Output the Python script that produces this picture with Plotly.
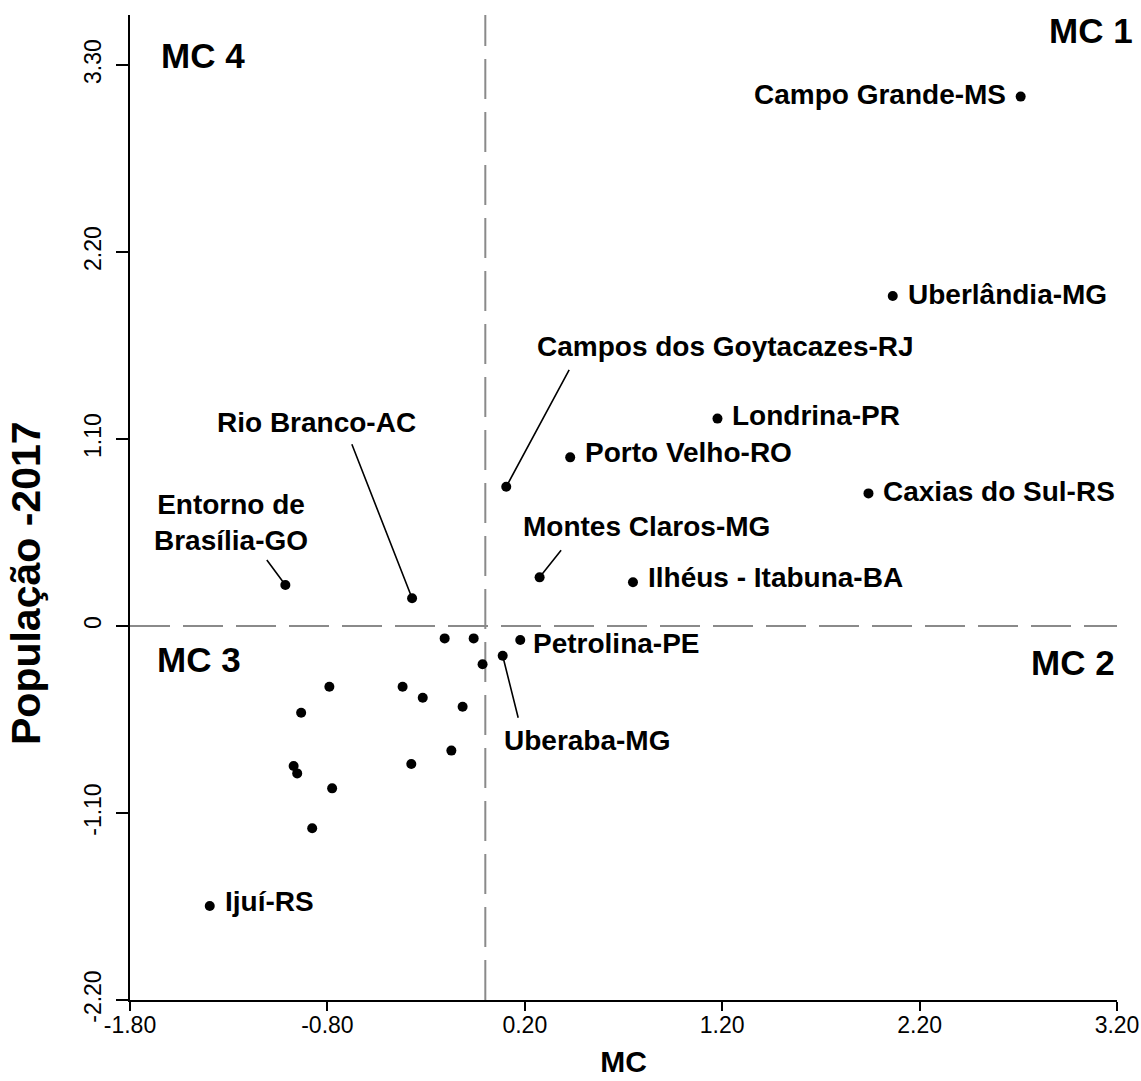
import plotly.graph_objects as go

# ---------------- data ----------------
city_labels = [
    "Campo Grande-MS", "Uberlândia-MG", "Londrina-PR", "Porto Velho-RO",
    "Caxias do Sul-RS", "Campos dos Goytacazes-RJ", "Montes Claros-MG",
    "Ilhéus - Itabuna-BA", "Entorno de<br>Brasília-GO", "Rio Branco-AC",
    "Petrolina-PE", "Uberaba-MG", "Ijuí-RS",
    "", "", "", "", "", "", "", "", "", "", "", "", "", "",
]
mc_values = [
    2.712, 2.064, 1.176, 0.430, 1.941, 0.106, 0.275, 0.748, -1.013, -0.371,
    0.177, 0.088, -1.396,
    -0.206, -0.059, -0.014, -0.790, -0.933, -0.419, -0.317, -0.115, -0.172,
    -0.375, -0.971, -0.953, -0.776, -0.877,
]
pop_values = [
    3.114, 1.941, 1.220, 0.992, 0.780, 0.819, 0.286, 0.257, 0.241, 0.163,
    -0.082, -0.175, -1.647,
    -0.073, -0.073, -0.225, -0.357, -0.510, -0.357, -0.422, -0.475, -0.733,
    -0.812, -0.824, -0.867, -0.955, -1.190,
]
x_tick_values = [-1.8, -0.8, 0.2, 1.2, 2.2, 3.2]
x_tick_labels = ["-1.80", "-0.80", "0.20", "1.20", "2.20", "3.20"]
y_tick_values = [-2.2, -1.1, 0.0, 1.1, 2.2, 3.3]
y_tick_labels = ["-2.20", "-1.10", "0", "1.10", "2.20", "3.30"]
quadrant_labels = ["MC 1", "MC 2", "MC 3", "MC 4"]
x_title = "MC"
y_title = "População -2017"

# ---------------- styles / label placement ----------------
FONT = "Liberation Sans, Arial, sans-serif"
LABEL_SIZE = 28

# name -> (xanchor, xshift, yshift)
side_labels = {
    "Campo Grande-MS": ("right", -13, 2),
    "Uberlândia-MG": ("left", 13, 2),
    "Londrina-PR": ("left", 13, 3),
    "Porto Velho-RO": ("left", 13, 5),
    "Caxias do Sul-RS": ("left", 13, 2),
    "Ilhéus - Itabuna-BA": ("left", 13, 5),
    "Petrolina-PE": ("left", 11, -4),
    "Ijuí-RS": ("left", 13, 4),
}
# name -> ((text dx, text dy up), (leader tail ax, ay down))
leader_labels = {
    "Campos dos Goytacazes-RJ": ((219, 140), (64, -119)),
    "Montes Claros-MG": ((107, 51), (23, -29)),
    "Rio Branco-AC": ((-96, 176), (-61, -156)),
    "Entorno de<br>Brasília-GO": ((-54, 63), (-20, -27)),
    "Uberaba-MG": ((84, -85), (16, 64)),
}
quadrant_pos = {
    "MC 1": (3.068, 3.50),
    "MC 2": (2.977, -0.212),
    "MC 3": (-1.448, -0.20),
    "MC 4": (-1.428, 3.353),
}

fig = go.Figure()
fig.add_trace(go.Scatter(
    x=mc_values, y=pop_values, mode="markers",
    marker=dict(color="black", size=10, line=dict(width=0)),
    hoverinfo="skip", showlegend=False,
))

dash_style = dict(color="#8a8a8a", width=2, dash="40px,13px")
fig.add_hline(y=0, line=dash_style, layer="below")
fig.add_vline(x=0, line=dash_style, layer="below")

annotations = []
for name, xv, yv in zip(city_labels, mc_values, pop_values):
    if not name:
        continue
    if name in side_labels:
        anchor, xs, ys = side_labels[name]
        annotations.append(dict(
            x=xv, y=yv, xref="x", yref="y", text=name, showarrow=False,
            xanchor=anchor, yanchor="middle", xshift=xs, yshift=ys,
            font=dict(family=FONT, size=LABEL_SIZE, color="black", weight="bold"),
        ))
    elif name in leader_labels:
        (tdx, tdy), (ax, ay) = leader_labels[name]
        annotations.append(dict(
            x=xv, y=yv, xref="x", yref="y", text=name, showarrow=False,
            xanchor="center", yanchor="middle", xshift=tdx, yshift=tdy,
            align="center",
            font=dict(family=FONT, size=LABEL_SIZE, color="black", weight="bold"),
        ))
        annotations.append(dict(
            x=xv, y=yv, xref="x", yref="y", text=" ", showarrow=True,
            ax=ax, ay=ay, arrowhead=0, arrowwidth=1.6, arrowcolor="black",
            standoff=0, startstandoff=0, font=dict(size=1),
        ))

for q in quadrant_labels:
    qx, qy = quadrant_pos[q]
    annotations.append(dict(
        x=qx, y=qy, xref="x", yref="y", text=q, showarrow=False,
        xanchor="center", yanchor="middle",
        font=dict(family=FONT, size=35, color="black", weight="bold"),
    ))

# y-axis title placed as rotated paper annotation (centered lower than plot mid)
annotations.append(dict(
    x=(26 - 130) / 987, y=(1000 - 583) / 985, xref="paper", yref="paper",
    text=y_title, textangle=-90, showarrow=False,
    xanchor="center", yanchor="middle",
    font=dict(family=FONT, size=41, color="black", weight="bold"),
))

fig.update_layout(
    width=1141, height=1081,
    margin=dict(l=130, r=24, t=15, b=81),
    paper_bgcolor="white", plot_bgcolor="white",
    font=dict(family=FONT, color="black"),
    annotations=annotations,
    xaxis=dict(
        range=[-1.8, 3.2], showgrid=False, zeroline=False, automargin=False,
        showline=True, linecolor="black", linewidth=2,
        tickmode="array", tickvals=x_tick_values, ticktext=x_tick_labels,
        ticks="outside", ticklen=9, tickwidth=2, tickcolor="black",
        ticklabelstandoff=-6,
        tickfont=dict(family=FONT, size=23, color="black"),
        title=dict(text=x_title, standoff=14,
                   font=dict(family=FONT, size=30, color="black", weight="bold")),
    ),
    yaxis=dict(
        range=[-2.2, 3.594], showgrid=False, zeroline=False, automargin=False,
        showline=True, linecolor="black", linewidth=2,
        tickmode="array", tickvals=y_tick_values, ticktext=y_tick_labels,
        ticks="outside", ticklen=12, tickwidth=2, tickcolor="black",
        tickangle=-90, ticklabelstandoff=6,
        tickfont=dict(family=FONT, size=23, color="black"),
    ),
)

fig.write_html(
    "out.html",
    config={"displayModeBar": False},
    post_script="document.body.style.margin='0px';",
)
